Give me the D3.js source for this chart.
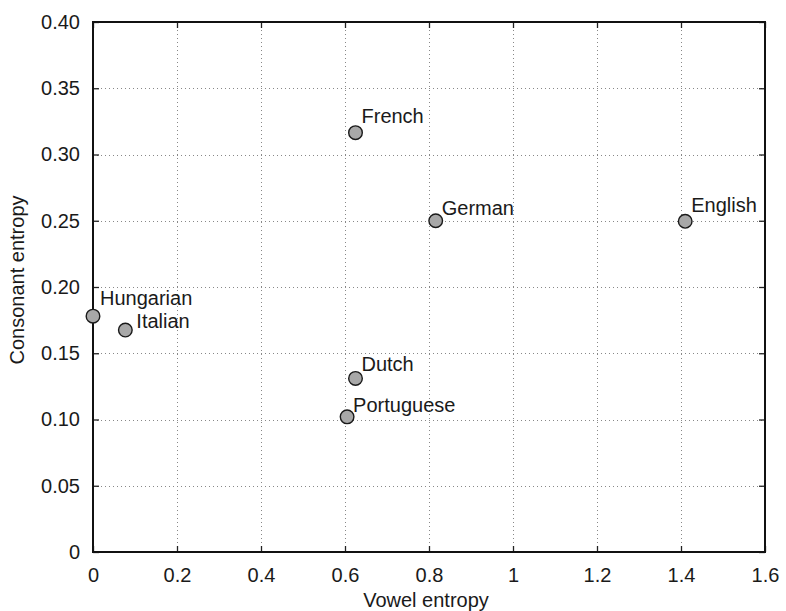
<!DOCTYPE html>
<html>
<head>
<meta charset="utf-8">
<script src="https://cdn.jsdelivr.net/npm/d3@7"></script>
<style>
  html, body { margin: 0; padding: 0; background: #fff; }
  svg { display: block; font-family: "Liberation Sans", Arial, Helvetica, sans-serif; }
</style>
</head>
<body>
<svg id="chart" width="786" height="611"></svg>
<script>
// ---- data ----
const languages = ["Hungarian", "Italian", "Portuguese", "Dutch", "French", "German", "English"];
const vowelEntropy = [0.0, 0.077, 0.605, 0.625, 0.625, 0.816, 1.41];
const consonantEntropy = [0.178, 0.1675, 0.102, 0.131, 0.3165, 0.250, 0.2496];
const xTicks = [0, 0.2, 0.4, 0.6, 0.8, 1, 1.2, 1.4, 1.6];
const xTickLabels = ["0", "0.2", "0.4", "0.6", "0.8", "1", "1.2", "1.4", "1.6"];
const yTicks = [0, 0.05, 0.10, 0.15, 0.20, 0.25, 0.30, 0.35, 0.40];
const yTickLabels = ["0", "0.05", "0.10", "0.15", "0.20", "0.25", "0.30", "0.35", "0.40"];
const xLabel = "Vowel entropy";
const yLabel = "Consonant entropy";

// label nudges (styling, pixels)
const labelDx = [7, 11, 6, 6, 6, 6, 6];
const labelDy = [-11, -2, -5, -7, -10, -6, -9];

// ---- layout ----
const svg = d3.select("#chart");
const m = { left: 93, right: 765, top: 22, bottom: 552 };
const x = d3.scaleLinear().domain([0, 1.6]).range([m.left, m.right]);
const y = d3.scaleLinear().domain([0, 0.40]).range([m.bottom, m.top]);
const W = m.right - m.left, H = m.bottom - m.top;
const fs = 20;

// grid
const grid = svg.append("g");
grid.selectAll("line.gx").data(xTicks.slice(1, -1)).join("line")
  .attr("x1", d => Math.round(x(d)) + 0.5).attr("x2", d => Math.round(x(d)) + 0.5)
  .attr("y1", m.top).attr("y2", m.bottom)
  .attr("stroke", "#888").attr("stroke-width", 1).attr("stroke-dasharray", "1,3");
grid.selectAll("line.gy").data(yTicks.slice(1, -1)).join("line")
  .attr("y1", d => Math.round(y(d)) + 0.5).attr("y2", d => Math.round(y(d)) + 0.5)
  .attr("x1", m.left).attr("x2", m.right)
  .attr("stroke", "#888").attr("stroke-width", 1).attr("stroke-dasharray", "1,3");

// axes (bottom/left with labels, top/right ticks only)
const tickLen = 6;
const xAxisB = d3.axisBottom(x).tickValues(xTicks).tickFormat((d, i) => xTickLabels[i])
  .tickSizeInner(-tickLen).tickSizeOuter(0).tickPadding(tickLen + 10);
const yAxisL = d3.axisLeft(y).tickValues(yTicks).tickFormat((d, i) => yTickLabels[i])
  .tickSizeInner(-tickLen).tickSizeOuter(0).tickPadding(tickLen + 7);
const xAxisT = d3.axisTop(x).tickValues(xTicks).tickFormat("").tickSizeInner(-tickLen).tickSizeOuter(0);
const yAxisR = d3.axisRight(y).tickValues(yTicks).tickFormat("").tickSizeInner(-tickLen).tickSizeOuter(0);

function styleAxis(g) {
  g.select(".domain").remove();
  g.selectAll(".tick line").attr("stroke", "#222").attr("stroke-width", 1.3);
  g.selectAll(".tick text").attr("fill", "#1a1a1a").style("font-size", fs + "px");
}
svg.append("g").attr("transform", `translate(0,${m.bottom})`).call(xAxisB).call(styleAxis);
svg.append("g").attr("transform", `translate(${m.left},0)`).call(yAxisL).call(styleAxis);
svg.append("g").attr("transform", `translate(0,${m.top})`).call(xAxisT).call(styleAxis);
svg.append("g").attr("transform", `translate(${m.right},0)`).call(yAxisR).call(styleAxis);

// frame
svg.append("rect").attr("x", m.left).attr("y", m.top).attr("width", W).attr("height", H)
  .attr("fill", "none").attr("stroke", "#111").attr("stroke-width", 2);

// points
const pts = languages.map((l, i) => ({ l, vx: vowelEntropy[i], vy: consonantEntropy[i], i }));
svg.append("g").selectAll("circle").data(pts).join("circle")
  .attr("cx", d => x(d.vx)).attr("cy", d => y(d.vy)).attr("r", 6.8)
  .attr("fill", "#a8a8a8").attr("stroke", "#1a1a1a").attr("stroke-width", 1.4);

svg.append("g").selectAll("text").data(pts).join("text")
  .attr("x", d => x(d.vx) + labelDx[d.i]).attr("y", d => y(d.vy) + labelDy[d.i])
  .attr("fill", "#1a1a1a").style("font-size", fs + "px").text(d => d.l);

// axis labels
svg.append("text").attr("x", (m.left + m.right) / 2 - 3).attr("y", 607)
  .attr("text-anchor", "middle").attr("fill", "#1a1a1a").style("font-size", fs + "px").text(xLabel);
svg.append("text").attr("transform", `translate(24,${(m.top + m.bottom) / 2 - 7}) rotate(-90)`)
  .attr("text-anchor", "middle").attr("fill", "#1a1a1a").style("font-size", fs + "px").text(yLabel);
</script>
</body>
</html>
